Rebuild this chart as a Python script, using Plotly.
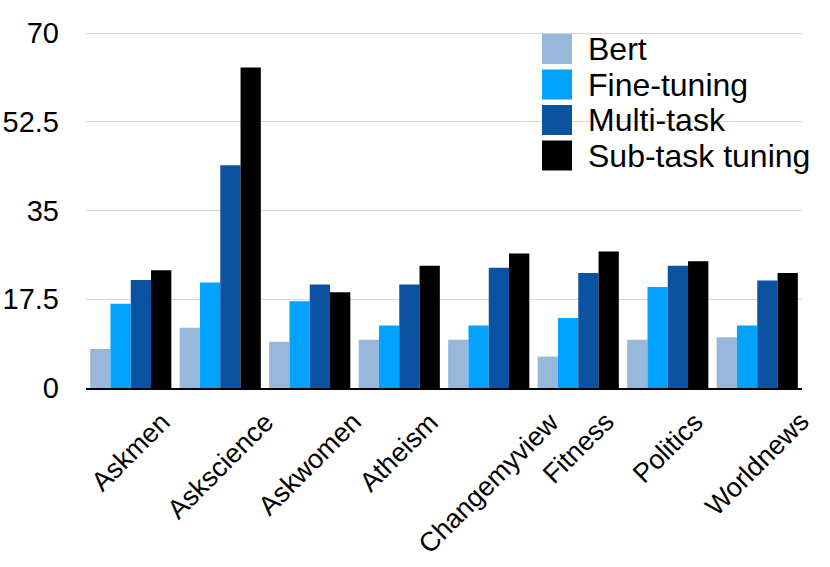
import plotly.graph_objects as go

categories = ["Askmen", "Askscience", "Askwomen", "Atheism",
              "Changemyview", "Fitness", "Politics", "Worldnews"]
bert = [7.7, 11.9, 9.1, 9.5, 9.5, 6.2, 9.5, 10.0]
fine_tuning = [16.6, 20.8, 17.1, 12.3, 12.3, 13.8, 19.9, 12.3]
multi_task = [21.3, 43.9, 20.4, 20.4, 23.7, 22.7, 24.1, 21.2]
sub_task = [23.2, 63.2, 18.9, 24.1, 26.5, 26.9, 25.0, 22.7]
series_names = ["Bert", "Fine-tuning", "Multi-task", "Sub-task tuning"]
series_colors = ["#97b8db", "#02a3fe", "#0b52a0", "#000000"]
y_ticks = [0, 17.5, 35, 52.5, 70]
y_tick_labels = ["0", "17.5", "35", "52.5", "70"]

FONT = "Liberation Sans, Arial, Helvetica, sans-serif"

W, H = 830, 567
ML, MR, MT, MB = 86, 28, 32, 179
PW = W - ML - MR
PH = H - MT - MB

fig = go.Figure()
for name, vals, color in zip(series_names, [bert, fine_tuning, multi_task, sub_task], series_colors):
    fig.add_trace(go.Bar(x=categories, y=vals, name=name, showlegend=False,
                         marker=dict(color=color, line=dict(width=0))))

# rotated category labels, centred under each group
for c in categories:
    fig.add_annotation(x=c, y=0, xref="x", yref="y", text=c,
                       textangle=-45, xanchor="center", yanchor="top",
                       yshift=-16, showarrow=False,
                       font=dict(family=FONT, size=27, color="black"))

# legend (large swatches, tight spacing as in the reference)
leg_left, leg_top, sw, step = 542, 34, 30, 35.5
text_left = 589
for i, (name, color) in enumerate(zip(series_names, series_colors)):
    top = leg_top + i * step
    x0 = (leg_left - ML) / PW
    x1 = (leg_left + sw - ML) / PW
    y1 = 1 - (top - MT) / PH
    y0 = 1 - (top + sw - MT) / PH
    fig.add_shape(type="rect", xref="paper", yref="paper",
                  x0=x0, x1=x1, y0=y0, y1=y1,
                  fillcolor=color, line=dict(width=0))
    fig.add_annotation(xref="paper", yref="paper",
                       x=(text_left - ML) / PW, y=(y0 + y1) / 2,
                       text=name, showarrow=False, xanchor="left",
                       yanchor="middle", xshift=-3,
                       font=dict(family=FONT, size=32, color="black"))

fig.update_layout(
    width=W, height=H,
    margin=dict(l=ML, r=MR, t=MT, b=MB, autoexpand=False),
    plot_bgcolor="white", paper_bgcolor="white",
    barmode="group", bargap=0.093, bargroupgap=0,
    font=dict(family=FONT, size=26, color="black"),
    showlegend=False,
)
fig.update_xaxes(showticklabels=False, showline=True, linecolor="black",
                 linewidth=2, ticks="", showgrid=False, automargin=False,
                 range=[-0.5, len(categories) - 0.5], autorange=False)
fig.update_yaxes(range=[0, 70.2], tickvals=y_ticks, ticktext=y_tick_labels,
                 showgrid=True, gridcolor="#d6d6d6", gridwidth=1,
                 zeroline=False, showline=False, ticks="", automargin=False,
                 ticklabelstandoff=26,
                 tickfont=dict(family=FONT, size=29, color="black"))

fig.write_html("out.html", config={"displayModeBar": False},
               post_script="document.body.style.margin='0';document.body.style.overflow='hidden';")
